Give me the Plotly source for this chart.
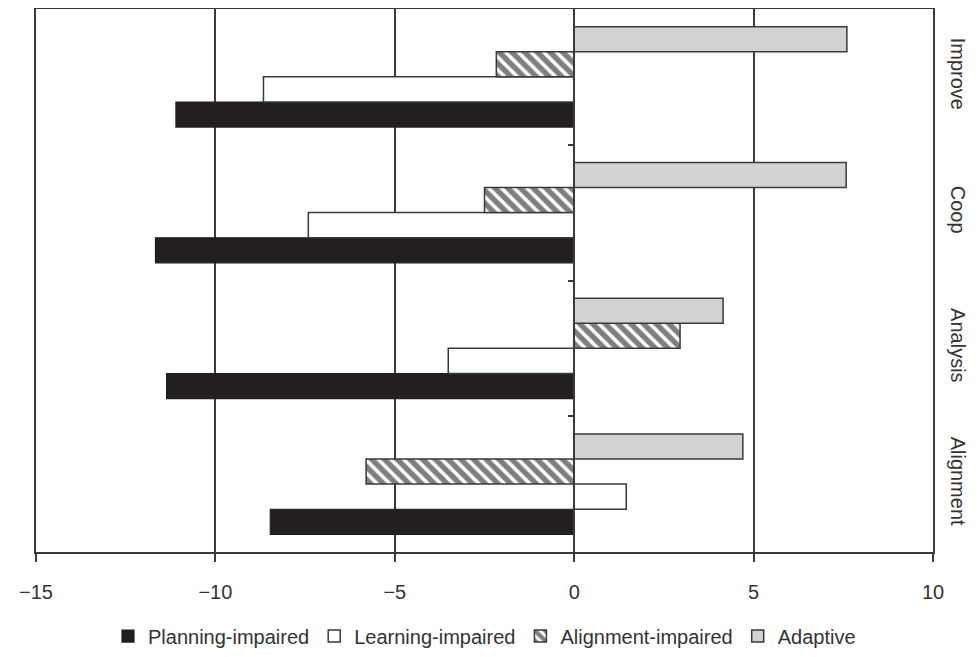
import plotly.graph_objects as go

categories = ["Alignment", "Analysis", "Coop", "Improve"]
planning_impaired = [-8.47, -11.36, -11.67, -11.1]
learning_impaired = [1.45, -3.51, -7.41, -8.66]
alignment_impaired = [-5.8, 2.95, -2.5, -2.17]
adaptive = [4.7, 4.15, 7.58, 7.6]
x_ticks = [-15, -10, -5, 0, 5, 10]

line_col = "#3a3a3a"
fig = go.Figure()
fig.add_trace(go.Bar(y=categories, x=planning_impaired, orientation="h", name="Planning-impaired",
                     marker=dict(color="#231f20", line=dict(color="#231f20", width=1.2))))
fig.add_trace(go.Bar(y=categories, x=learning_impaired, orientation="h", name="Learning-impaired",
                     marker=dict(color="white", line=dict(color=line_col, width=1.5))))
fig.add_trace(go.Bar(y=categories, x=alignment_impaired, orientation="h", name="Alignment-impaired",
                     marker=dict(color="white", line=dict(color=line_col, width=1.5),
                                 pattern=dict(shape="\\", fgcolor="#000000", bgcolor="white",
                                              size=9, solidity=0.6))))
fig.add_trace(go.Bar(y=categories, x=adaptive, orientation="h", name="Adaptive",
                     marker=dict(color="#d1d2d4", line=dict(color=line_col, width=1.5))))
# invisible helper trace so that the secondary axes (tick labels / zero-line ticks) are drawn
fig.add_trace(go.Scatter(x=adaptive, y=categories, xaxis="x2", yaxis="y2", mode="none",
                         showlegend=False, hoverinfo="skip"))

font_family = "Liberation Sans, Arial, Helvetica, sans-serif"
d = 0.0457
fig.update_layout(
    width=980, height=657,
    margin=dict(l=28, r=55, t=1, b=87),
    paper_bgcolor="white", plot_bgcolor="white",
    barmode="group", bargap=0.26, bargroupgap=0,
    font=dict(family=font_family, size=20, color="#333333"),
    showlegend=True,
    legend=dict(orientation="h", x=0.5, xanchor="center", y=-0.102, yanchor="middle",
                font=dict(size=20, color="#333333"), itemwidth=30, traceorder="normal"),
    xaxis=dict(range=[-15, 10], tickvals=x_ticks, showgrid=True, gridcolor=line_col, gridwidth=1.5,
               zeroline=False, showline=True, linecolor=line_col, linewidth=1.5, mirror=True,
               ticks="outside", ticklen=8, tickcolor=line_col, tickwidth=1.5,
               showticklabels=False, automargin=False),
    xaxis2=dict(overlaying="x", anchor="free", position=0, side="bottom",
                range=[-15, 10], tickvals=x_ticks, showticklabels=True, ticks="",
                showgrid=False, zeroline=False, showline=False, automargin=False,
                tickfont=dict(size=20, color="#333333")),
    yaxis=dict(type="category", categoryorder="array", categoryarray=categories,
               domain=[d, 1],
               side="right", tickangle=90, showgrid=False, zeroline=False,
               showline=True, linecolor=line_col, linewidth=1.5, mirror=True, ticks="",
               ticklabelstandoff=8, automargin=False,
               tickfont=dict(size=20, color="#333333")),
    yaxis2=dict(type="linear", overlaying="y", anchor="free", position=0.6, side="left",
                range=[-0.5, 3.5], tickvals=[0.5, 1.5, 2.5], showticklabels=False,
                ticks="outside", ticklen=5, tickwidth=1.5, tickcolor=line_col, automargin=False,
                showgrid=False, zeroline=False, showline=True, linecolor=line_col, linewidth=1.5),
)
fig.write_html("out.html")
